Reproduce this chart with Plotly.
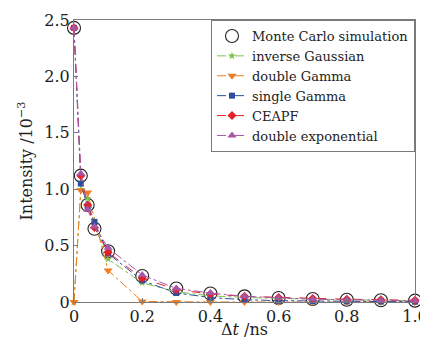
import plotly.graph_objects as go

dt = [0, 0.02, 0.04, 0.06, 0.1, 0.2, 0.3, 0.4, 0.5, 0.6, 0.7, 0.8, 0.9, 1.0]
monte_carlo = [2.43, 1.12, 0.86, 0.65, 0.45, 0.23, 0.12, 0.075, 0.05, 0.035, 0.027, 0.02, 0.015, 0.012]
inverse_gaussian = [0, 1.0, 0.92, 0.68, 0.38, 0.17, 0.09, 0.055, 0.04, 0.03, 0.025, 0.02, 0.015, 0.012]
double_gamma = [0, 0.99, 0.97, None, 0.28, 0.005, 0.0, 0.0, 0.0, 0.0, 0.0, 0.0, 0.0, 0.0]
single_gamma = [2.43, 1.05, 0.85, 0.71, 0.43, 0.19, 0.08, 0.04, 0.02, 0.012, 0.008, 0.005, 0.004, 0.003]
ceapf = [2.43, 1.12, 0.86, 0.66, 0.44, 0.21, 0.11, 0.07, 0.05, 0.04, 0.03, 0.025, 0.02, 0.015]
double_exp = [2.43, 1.14, 0.82, 0.67, 0.48, 0.24, 0.12, 0.08, 0.05, 0.035, 0.025, 0.02, 0.015, 0.01]

y_ticks = [0, 0.5, 1.0, 1.5, 2.0, 2.5]
y_ticktext = ["0", "0.5", "1.0", "1.5", "2.0", "2.5"]
x_ticks = [0, 0.2, 0.4, 0.6, 0.8, 1.0]
x_ticktext = ["0", "0.2", "0.4", "0.6", "0.8", "1.0"]

FONT = "DejaVu Serif"
TXT = "#222222"

fig = go.Figure()
fig.add_trace(go.Scatter(x=dt, y=monte_carlo, name="Monte Carlo simulation", mode="markers",
                         marker=dict(symbol="circle-open", size=13, color="#222222", line=dict(width=1.1)),
                         cliponaxis=False))
series = [
    ("inverse Gaussian", inverse_gaussian, "#7cc24a", "star", 6, "dashdot"),
    ("double Gamma", double_gamma, "#f07d22", "triangle-down", 8, "dashdot"),
    ("single Gamma", single_gamma, "#2b4f9e", "square", 6, "dashdot"),
    ("CEAPF", ceapf, "#e3212b", "diamond", 7, "dash"),
    ("double exponential", double_exp, "#a657a8", "triangle-up", 8, "dashdot"),
]
for name, vals, col, sym, sz, dash in series:
    fig.add_trace(go.Scatter(x=dt, y=vals, name=name, mode="lines+markers",
                             connectgaps=True,
                             line=dict(color=col, width=1, dash=dash),
                             marker=dict(symbol=sym, size=sz, color=col, line=dict(width=0)),
                             cliponaxis=False))

axis_common = dict(showline=True, linecolor="#7a7a7a", linewidth=1, mirror=True, automargin=False,
                   ticks="inside", ticklen=4, tickcolor="#7a7a7a", showgrid=False, zeroline=False,
                   tickfont=dict(family=FONT, size=16, color=TXT))
fig.update_xaxes(range=[0, 1.0], tickvals=x_ticks, ticktext=x_ticktext,
                 title=dict(text="Δ<i>t</i> /ns", font=dict(family=FONT, size=16, color=TXT)),
                 **axis_common)
fig.update_yaxes(range=[0, 2.5], tickvals=y_ticks, ticktext=y_ticktext,
                 title=dict(text="Intensity /10<sup>−3</sup>", font=dict(family=FONT, size=16, color=TXT)),
                 **axis_common)

# the page body adds an 8px offset; the figure box is sized to fill the rest of the window
fig.update_layout(
    template="none",
    width=420, height=331,
    margin=dict(l=66, r=13, t=12, b=37),
    paper_bgcolor="white", plot_bgcolor="white",
    showlegend=True,
    legend=dict(x=1, y=1, xanchor="right", yanchor="top",
                bgcolor="white", bordercolor="#7a7a7a", borderwidth=1,
                font=dict(family=FONT, size=13, color=TXT),
                itemwidth=30, tracegroupgap=0),
)

fig.write_html("out.html")
